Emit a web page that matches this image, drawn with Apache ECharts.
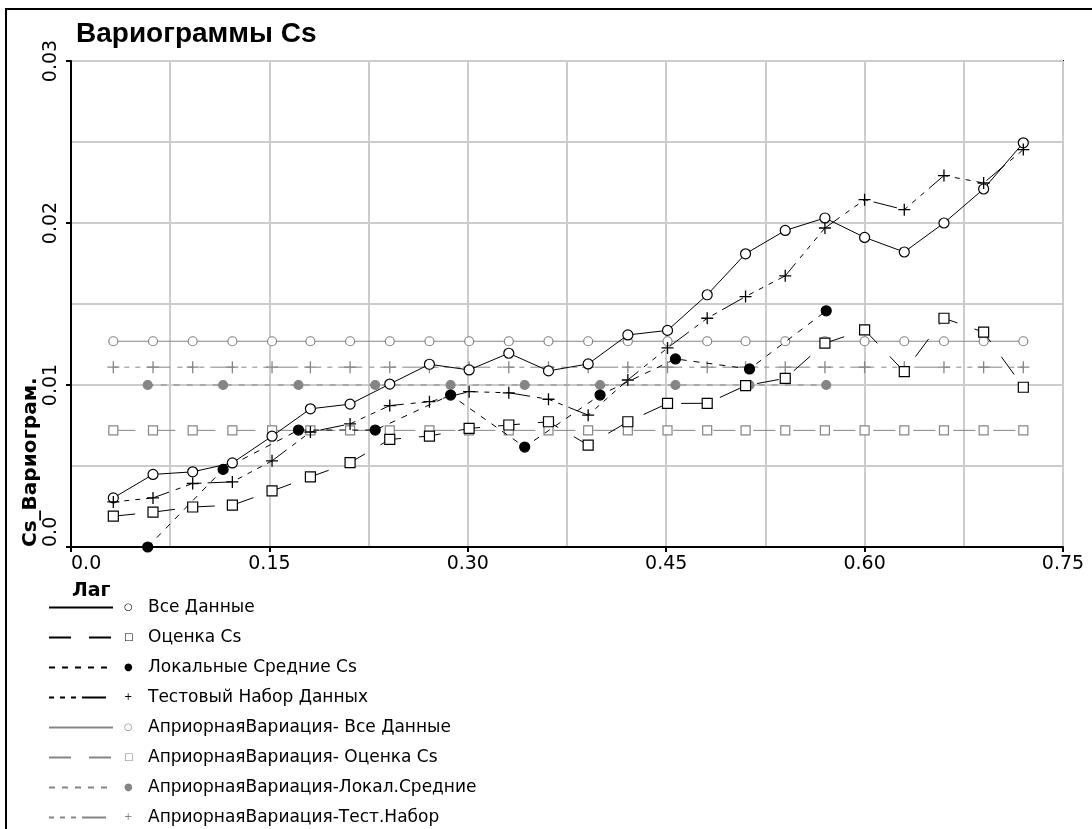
<!DOCTYPE html>
<html>
<head>
<meta charset="utf-8">
<script src="https://cdn.jsdelivr.net/npm/echarts@6/dist/echarts.min.js"></script>
<style>
  html, body { margin: 0; padding: 0; background: #fff; }
  #chart { width: 1092px; height: 829px; }
</style>
</head>
<body>
<div id="chart"></div>
<script>
// lag positions
var lags = [0.032, 0.062, 0.092, 0.122, 0.152, 0.181, 0.211, 0.241, 0.271, 0.301, 0.331, 0.361,
            0.391, 0.421, 0.451, 0.481, 0.510, 0.540, 0.570, 0.600, 0.630, 0.660, 0.690, 0.720];
var lagsLocal = [0.058, 0.115, 0.172, 0.230, 0.287, 0.343, 0.400, 0.457, 0.513, 0.571];

var allData = [0.00303, 0.00448, 0.00464, 0.00519, 0.00684, 0.00853, 0.00882, 0.01006, 0.01128, 0.01093, 0.01196, 0.01087,
               0.01130, 0.01309, 0.01337, 0.01557, 0.01810, 0.01954, 0.02031, 0.01911, 0.01821, 0.02000, 0.02210, 0.02495];
var estCs = [0.00190, 0.00215, 0.00247, 0.00258, 0.00346, 0.00433, 0.00521, 0.00664, 0.00685, 0.00732, 0.00753, 0.00773,
             0.00629, 0.00773, 0.00886, 0.00887, 0.00996, 0.01041, 0.01258, 0.01340, 0.01082, 0.01412, 0.01326, 0.00986];
var localMeans = [0.0000, 0.00479, 0.00722, 0.00722, 0.00938, 0.00617, 0.00938, 0.01161, 0.01099, 0.01458];
var testSet = [0.00278, 0.00303, 0.00392, 0.00402, 0.00532, 0.00710, 0.00760, 0.00873, 0.00897, 0.00959, 0.00952, 0.00912,
               0.00814, 0.01031, 0.01229, 0.01412, 0.01546, 0.01674, 0.01969, 0.02144, 0.02082, 0.02293, 0.02247, 0.02453];

// a priori variances (constant lines)
var sillAll = [0.0127, 0.0127, 0.0127, 0.0127, 0.0127, 0.0127, 0.0127, 0.0127, 0.0127, 0.0127, 0.0127, 0.0127,
               0.0127, 0.0127, 0.0127, 0.0127, 0.0127, 0.0127, 0.0127, 0.0127, 0.0127, 0.0127, 0.0127, 0.0127];
var sillEst = [0.0072, 0.0072, 0.0072, 0.0072, 0.0072, 0.0072, 0.0072, 0.0072, 0.0072, 0.0072, 0.0072, 0.0072,
               0.0072, 0.0072, 0.0072, 0.0072, 0.0072, 0.0072, 0.0072, 0.0072, 0.0072, 0.0072, 0.0072, 0.0072];
var sillLocal = [0.0100, 0.0100, 0.0100, 0.0100, 0.0100, 0.0100, 0.0100, 0.0100, 0.0100, 0.0100];
var sillTest = [0.0111, 0.0111, 0.0111, 0.0111, 0.0111, 0.0111, 0.0111, 0.0111, 0.0111, 0.0111, 0.0111, 0.0111,
                0.0111, 0.0111, 0.0111, 0.0111, 0.0111, 0.0111, 0.0111, 0.0111, 0.0111, 0.0111, 0.0111, 0.0111];

var names = ['Все Данные', 'Оценка Cs', 'Локальные Средние Cs', 'Тестовый Набор Данных',
             'АприорнаяВариация- Все Данные', 'АприорнаяВариация- Оценка Cs',
             'АприорнаяВариация-Локал.Средние', 'АприорнаяВариация-Тест.Набор'];
var legendGlyph = ['○', '□', '●', '+', '○', '□', '●', '+'];

function pairs(xs, ys) {
  return xs.map(function (x, i) { return [x, ys[i]]; });
}

var plusPath = 'path://M5.35,0H6.65V12H5.35Z M0,5.35H12V6.65H0Z';
var gray = '#858585';
var dashEst = [22, 18];
var dashLocal = [6, 7];
var dashTest = [5, 6, 5, 6, 5, 6, 24, 7];

function mkSeries(name, data, color, dash, symbol, size, fill, z) {
  return {
    name: name,
    type: 'line',
    data: data,
    z: z,
    symbol: symbol,
    symbolSize: size,
    showAllSymbol: true,
    animation: false,
    lineStyle: { color: color, width: 1, type: dash },
    // plus markers are filled paths, no outline
    itemStyle: { color: fill, borderColor: color, borderWidth: symbol === plusPath ? 0 : 1.2 },
    emphasis: { disabled: true }
  };
}

var chart = echarts.init(document.getElementById('chart'));

var option = {
  backgroundColor: '#fff',
  animation: false,
  title: {
    text: 'Вариограммы Cs',
    left: 71,
    top: 15,
    textStyle: { fontFamily: 'Liberation Sans', fontWeight: 'bold', fontSize: 28, color: '#000' }
  },
  grid: {
    left: 71, top: 61, width: 992, height: 486,
    show: true, borderColor: '#000', borderWidth: 2, backgroundColor: 'transparent'
  },
  xAxis: {
    type: 'value',
    min: 0, max: 0.75, interval: 0.15,
    axisLine: { show: true, onZero: false, lineStyle: { color: '#000', width: 2 } },
    axisTick: { show: true, length: 5, lineStyle: { color: '#000', width: 2 } },
    axisLabel: {
      color: '#000', fontFamily: 'DejaVu Sans', fontSize: 19, margin: 8,
      alignMinLabel: 'left',
      formatter: function (v) { return v === 0 ? '0.0' : v.toFixed(2); }
    },
    splitLine: { show: true, lineStyle: { color: '#cccccc', width: 2 } },
    minorTick: { show: false, splitNumber: 2 },
    minorSplitLine: { show: true, lineStyle: { color: '#cccccc', width: 2 } }
  },
  yAxis: {
    type: 'value',
    min: 0, max: 0.03, interval: 0.01,
    axisLine: { show: true, onZero: false, lineStyle: { color: '#000', width: 2 } },
    axisTick: { show: true, length: 5, lineStyle: { color: '#000', width: 2 } },
    axisLabel: {
      color: '#000', fontFamily: 'DejaVu Sans', fontSize: 19, margin: 10, rotate: 90,
      alignMinLabel: 'left',
      formatter: function (v) { return v === 0 ? '0.0' : v.toFixed(2); }
    },
    splitLine: { show: true, lineStyle: { color: '#cccccc', width: 2 } },
    minorTick: { show: false, splitNumber: 2 },
    minorSplitLine: { show: true, lineStyle: { color: '#cccccc', width: 2 } }
  },
  legend: {
    orient: 'vertical',
    left: 48,
    top: 599,
    padding: 0,
    itemWidth: 64,
    itemHeight: 14,
    itemGap: 13,
    selectedMode: false,
    data: names,
    itemStyle: { opacity: 0 },
    formatter: function (name) {
      var i = names.indexOf(name);
      var key = i < 4 ? 'm' : 'g';
      return '{' + key + '|' + legendGlyph[i] + '}{t|' + name + '}';
    },
    textStyle: {
      color: '#000',
      rich: {
        m: { fontFamily: 'DejaVu Sans', fontSize: 10, width: 24, padding: [0, 0, 0, 6], lineHeight: 14, color: '#000' },
        g: { fontFamily: 'DejaVu Sans', fontSize: 10, width: 24, padding: [0, 0, 0, 6], lineHeight: 14, color: gray },
        t: { fontFamily: 'DejaVu Sans', fontSize: 17, lineHeight: 14, color: '#000' }
      }
    }
  },
  graphic: [
    { type: 'rect', shape: { x: 6, y: 9, width: 2000, height: 2000 }, style: { fill: 'none', stroke: '#000', lineWidth: 2 }, silent: true, z: -10 },
    { type: 'text', x: 72, y: 582, style: { text: 'Лаг', fill: '#000', font: 'bold 19px "DejaVu Sans"' }, silent: true },
    { type: 'text', x: 31, y: 547, rotation: Math.PI / 2,
      style: { text: 'Cs_Вариограм.', fill: '#000', font: 'bold 20px "DejaVu Sans"', textAlign: 'left', textVerticalAlign: 'middle' }, silent: true }
  ],
  series: [
    mkSeries(names[4], pairs(lags, sillAll), gray, 'solid', 'circle', 9, '#fff', 2),
    mkSeries(names[5], pairs(lags, sillEst), gray, dashEst, 'rect', 9, '#fff', 2),
    mkSeries(names[6], pairs(lagsLocal, sillLocal), gray, dashLocal, 'circle', 9, gray, 2),
    mkSeries(names[7], pairs(lags, sillTest), gray, dashTest, plusPath, 12, gray, 2),
    mkSeries(names[0], pairs(lags, allData), '#000', 'solid', 'circle', 10, '#fff', 3),
    mkSeries(names[1], pairs(lags, estCs), '#000', dashEst, 'rect', 10, '#fff', 3),
    mkSeries(names[2], pairs(lagsLocal, localMeans), '#000', dashLocal, 'circle', 10, '#000', 3),
    mkSeries(names[3], pairs(lags, testSet), '#000', dashTest, plusPath, 12, '#000', 3)
  ]
};

chart.setOption(option);
</script>
</body>
</html>
